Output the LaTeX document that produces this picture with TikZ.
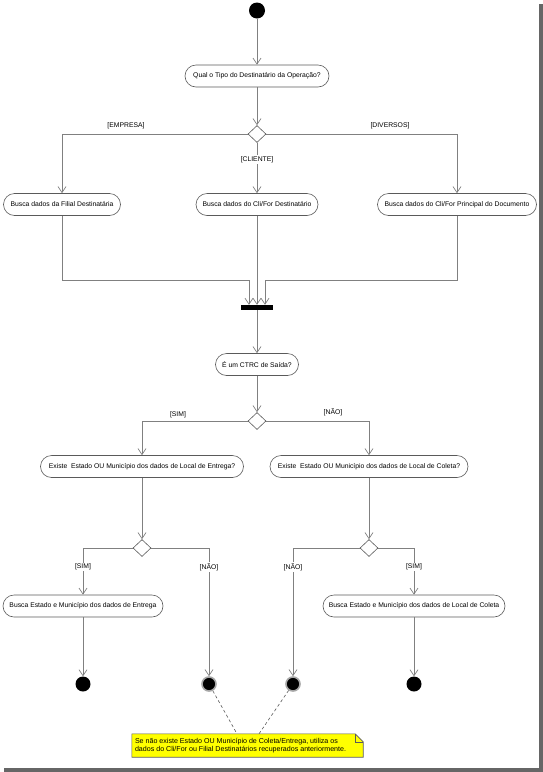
\documentclass[tikz,border=0pt]{standalone}
\usepackage{fontspec}
\setmainfont{Liberation Sans}
\usetikzlibrary{arrows.meta,shapes.geometric,calc}
\definecolor{linegray}{RGB}{128,128,128}
\definecolor{boxgray}{RGB}{90,90,90}
\definecolor{noteyellow}{RGB}{255,255,0}
\begin{document}
\begin{tikzpicture}[x=1pt,y=-1pt,
  every node/.style={font=\fontsize{6.8}{8}\selectfont},
  act/.style={draw=boxgray,rounded corners=11pt,minimum height=22pt,inner sep=0pt,fill=white,line width=0.6pt},
  dec/.style={draw=boxgray,diamond,minimum width=18pt,minimum height=17pt,inner sep=0pt,fill=white,line width=0.6pt,aspect=1},
  lbl/.style={fill=white,inner sep=1pt},
  arr/.style={draw=linegray,line width=0.7pt,-{Straight Barb[length=6pt,width=8pt,line width=0.7pt]}},
  startnode/.style={circle,fill=black,minimum size=16pt,inner sep=0pt},
  endnode/.style={circle,fill=black,minimum size=15pt,inner sep=0pt},
  endring/.style={circle,fill=black,draw=linegray!70,line width=1.6pt,minimum size=14pt,inner sep=0pt},
  notetext/.style={align=left,inner sep=0pt,font=\fontsize{7.1}{8.6}\selectfont}
]
\useasboundingbox (0,0) rectangle (543,772);
% drop shadow of the frame
\fill[black!60] (539,4) rectangle (542.5,771.5);
\fill[black!60] (4,767.5) rectangle (542.5,771.5);

\node[startnode] (start) at (257,10.5) {};
\node[act,minimum width=144pt] (q1) at (257,76) {Qual o Tipo do Destinatário da Operação?};
\node[dec] (d1) at (257,134) {};
\node[act,minimum width=117pt] (b1) at (62,204.5) {Busca dados da Filial Destinatária};
\node[act,minimum width=122pt] (b2) at (257,204.5) {Busca dados do Cli/For Destinatário};
\node[act,minimum width=159pt] (b3) at (457,204.5) {Busca dados do Cli/For Principal do Documento};
\node[fill=black,minimum width=32pt,minimum height=5pt,inner sep=0pt] (bar) at (257,307.5) {};
\coordinate (j1) at (249,280);
\coordinate (j3) at (265,280);
\node[act,minimum width=83pt] (ctrc) at (257,364.5) {É um CTRC de Saída?};
\node[dec] (d2) at (257,421) {};
\node[act,minimum width=203pt] (e1) at (142,466.5) {Existe\ \ Estado OU Município dos dados de Local de Entrega?};
\node[act,minimum width=198pt] (e2) at (369,466.5) {Existe\ \ Estado OU Município dos dados de Local de Coleta?};
\node[dec] (d3) at (142,548) {};
\node[dec] (d4) at (369,548) {};
\node[act,minimum width=160pt] (f1) at (83,606) {Busca Estado e Município dos dados de Entrega};
\node[act,minimum width=182pt] (f2) at (414,606) {Busca Estado e Município dos dados de Local de Coleta};
\node[endnode] (x1) at (83,684) {};
\node[endring] (x2) at (209,684) {};
\node[endring] (x3) at (293,684) {};
\node[endnode] (x4) at (414,684) {};

% connectors
\draw[arr] (start) -- (q1);
\draw[arr] (q1) -- (d1);
\draw[arr] (d1.west) -| (b1.north);
\draw[arr] (d1.south) -- (b2.north);
\draw[arr] (d1.east) -| (b3.north);
\draw[arr] (b1.south) |- (j1) -- (j1 |- bar.north);
\draw[arr] (b2.south) -- (bar.north);
\draw[arr] (b3.south) |- (j3) -- (j3 |- bar.north);
\draw[arr] (bar.south) -- (ctrc.north);
\draw[arr] (ctrc.south) -- (d2.north);
\draw[arr] (d2.west) -| (e1.north);
\draw[arr] (d2.east) -| (e2.north);
\draw[arr] (e1.south) -- (d3.north);
\draw[arr] (e2.south) -- (d4.north);
\draw[arr] (d3.west) -| (f1.north);
\draw[arr] (d3.east) -| (x2.north);
\draw[arr] (d4.west) -| (x3.north);
\draw[arr] (d4.east) -| (f2.north);
\draw[arr] (f1.south) -- (x1.north);
\draw[arr] (f2.south) -- (x4.north);

% guard labels
\node[lbl] (lemp) at (126,126) {[EMPRESA]};
\node[lbl] (ldiv) at (390,125.5) {[DIVERSOS]};
\node[lbl] (lcli) at (257,159.5) {[CLIENTE]};
\node[lbl] (lsim1) at (178,414.5) {[SIM]};
\node[lbl] (lnao1) at (333,412) {[NÃO]};
\node[lbl] (lsim2) at (83,567) {[SIM]};
\node[lbl] (lnao2) at (209,567) {[NÃO]};
\node[lbl] (lnao3) at (293,567) {[NÃO]};
\node[lbl] (lsim3) at (414,567) {[SIM]};

% note
\node[minimum width=231pt,minimum height=23pt,inner sep=0pt] (note) at (247.5,745.5) {};
\fill[noteyellow,draw=boxgray,line width=0.6pt]
  (note.north west) -- ($(note.north east)+(-8,0)$) -- ($(note.north east)+(0,8)$)
  -- (note.south east) -- (note.south west) -- cycle;
\draw[boxgray,line width=0.6pt] ($(note.north east)+(-8,0)$) -- ($(note.north east)+(-8,8)$) -- ($(note.north east)+(0,8)$);
\node[notetext,anchor=west] (ntext) at ($(note.west)+(3,0)$) {Se não existe Estado OU Município de Coleta/Entrega, utiliza os\\dados do Cli/For ou Filial Destinatários recuperados anteriormente.};
\coordinate (na) at ($(note.north)+(-10.5,0)$);
\coordinate (nb) at ($(note.north)+(11.5,0)$);
\draw[boxgray,line width=0.6pt,dash pattern=on 3pt off 2.5pt] (x2) -- (na);
\draw[boxgray,line width=0.6pt,dash pattern=on 3pt off 2.5pt] (x3) -- (nb);
\end{tikzpicture}
\end{document}
